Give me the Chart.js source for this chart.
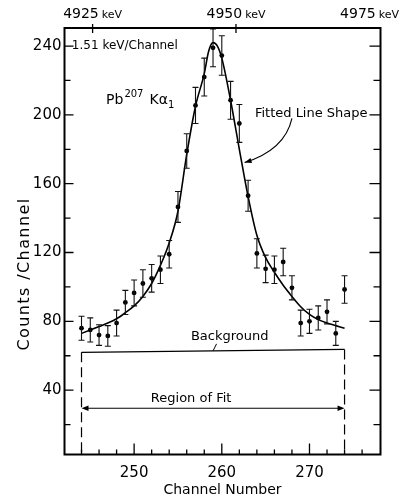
<!DOCTYPE html>
<html>
<head>
<meta charset="utf-8">
<script src="https://cdn.jsdelivr.net/npm/chart.js@4/dist/chart.umd.min.js"></script>
<style>
  html, body { margin: 0; padding: 0; background: #fff; }
  canvas { display: block; }
</style>
</head>
<body>
<canvas id="chart" width="403" height="499"></canvas>
<script>
// Measured counts per channel with their statistical errors
const channels = [244, 245, 246, 247, 248, 249, 250, 251, 252, 253, 254, 255, 256, 257, 258, 259,
                  260, 261, 262, 263, 264, 265, 266, 267, 268, 269, 270, 271, 272, 273, 274];
const counts   = [76, 75, 72, 71.5, 79, 91, 96.5, 102, 105, 110, 119, 146.5, 179, 205.5, 222, 239,
                  234.5, 208.5, 195, 153, 119.5, 110.5, 110, 114.5, 99.5, 79, 80, 82, 85.5, 73, 98.5];
const errors   = [7, 7, 6, 6, 7.5, 7, 7.5, 8, 8, 8, 8, 9, 10, 10.5, 11, 11,
                  11.5, 11, 11, 9, 8.5, 8, 8, 8, 7, 7.5, 7, 7, 7, 7, 8];

// Fitted line shape
const fitChannels = [244, 245, 246, 247, 248, 249, 250, 251, 252, 253, 254, 255, 256, 257, 258, 258.5,
                     259, 259.5, 260, 261, 262, 263, 264, 265, 266, 267, 268, 269, 270, 271, 272, 273, 274];
const fitCounts   = [73, 75, 77, 79, 81.5, 85, 89, 94.5, 102, 112.5, 125.5, 144, 177, 205, 224, 237,
                     242, 240, 233, 208.5, 180, 152.5, 130, 117, 108.5, 101, 94.5, 88.5, 84, 81, 79, 77.5, 76];

// Background level and fit window
const backgroundChannels = [244, 274];
const backgroundCounts   = [62, 63.7];
const fitWindow = [244, 274];
const fitWindowArrowCount = 29.5;

// Axis ticks
const yTickValues   = [20, 40, 60, 80, 100, 120, 140, 160, 180, 200, 220, 240];
const yTickLabels   = [40, 80, 120, 160, 200, 240];
const xMinorTicks   = [244, 246, 248, 250, 252, 254, 256, 258, 260, 262, 264, 266, 268, 270, 272, 274, 276];
const xTickLabels   = [250, 260, 270];
const energyTicks   = [4925, 4950, 4975];
const energyMarkers = [4925, 4950];

const FONT = '"DejaVu Sans", "Liberation Sans", sans-serif';

function pt(chart, cx, cy) {
  return [chart.scales.x.getPixelForValue(cx), chart.scales.y.getPixelForValue(cy)];
}

function arrowHead(ctx, tipX, tipY, dirX, dirY, len, half) {
  const m = Math.hypot(dirX, dirY);
  const ux = dirX / m, uy = dirY / m;
  const bx = tipX - ux * len, by = tipY - uy * len;
  ctx.beginPath();
  ctx.moveTo(tipX, tipY);
  ctx.lineTo(bx - uy * half, by + ux * half);
  ctx.lineTo(bx + uy * half, by - ux * half);
  ctx.closePath();
  ctx.fill();
}

// Error bars drawn from the data through the scales
const errorBars = {
  id: 'errorBars',
  afterDatasetsDraw(chart) {
    const ctx = chart.ctx;
    ctx.save();
    ctx.strokeStyle = '#111';
    ctx.lineWidth = 1.1;
    channels.forEach((c, i) => {
      const x = chart.scales.x.getPixelForValue(c);
      const yTop = chart.scales.y.getPixelForValue(counts[i] + errors[i]);
      const yBot = chart.scales.y.getPixelForValue(counts[i] - errors[i]);
      ctx.beginPath();
      ctx.moveTo(x, yTop); ctx.lineTo(x, yBot);
      ctx.moveTo(x - 3, yTop); ctx.lineTo(x + 3, yTop);
      ctx.moveTo(x - 3, yBot); ctx.lineTo(x + 3, yBot);
      ctx.stroke();
    });
    ctx.restore();
  }
};

// Frame, inward ticks, energy axis, axis title and annotations
const decorations = {
  id: 'decorations',
  afterDraw(chart) {
    const { ctx, chartArea: a, scales } = chart;
    const xs = scales.x, ys = scales.y, es = scales.x2;
    ctx.save();
    ctx.strokeStyle = '#000';
    ctx.fillStyle = '#000';

    // frame
    ctx.lineWidth = 2;
    ctx.strokeRect(a.left, a.top, a.right - a.left, a.bottom - a.top);

    // left and right ticks
    ctx.lineWidth = 1.3;
    ctx.beginPath();
    yTickValues.forEach(v => {
      const y = ys.getPixelForValue(v);
      const major = v % 40 === 0;
      ctx.moveTo(a.left, y); ctx.lineTo(a.left + (major ? 9 : 6), y);
      ctx.moveTo(a.right, y); ctx.lineTo(a.right - (major ? 11 : 7), y);
    });
    // bottom ticks
    xMinorTicks.forEach(c => {
      const x = xs.getPixelForValue(c);
      const major = c % 10 === 0;
      ctx.moveTo(x, a.bottom); ctx.lineTo(x, a.bottom - (major ? 11 : 5));
    });
    // top energy ticks
    energyMarkers.forEach(k => {
      const x = es.getPixelForValue(k);
      ctx.moveTo(x, a.top - 4); ctx.lineTo(x, a.top + 5);
    });
    ctx.stroke();

    // energy labels: number plus smaller unit
    ctx.textBaseline = 'alphabetic';
    ctx.textAlign = 'left';
    energyTicks.forEach(k => {
      const num = String(k), unit = 'keV';
      ctx.font = '14px ' + FONT;
      const wn = ctx.measureText(num).width;
      ctx.font = '11px ' + FONT;
      const wu = ctx.measureText(unit).width;
      const w = wn + 3 + wu;
      let x = es.getPixelForValue(k) - w / 2;
      if (x + w > chart.width - 4) x = chart.width - 4 - w;
      ctx.font = '14px ' + FONT;
      ctx.fillText(num, x, 18);
      ctx.font = '11px ' + FONT;
      ctx.fillText(unit, x + wn + 3, 18);
    });

    // y axis title
    ctx.save();
    ctx.translate(25, 274);
    ctx.rotate(-Math.PI / 2);
    ctx.font = '16px ' + FONT;
    ctx.textAlign = 'center';
    ctx.textBaseline = 'middle';
    if ('letterSpacing' in ctx) ctx.letterSpacing = '1.4px';
    ctx.fillText('Counts /Channel', 0, 0);
    ctx.restore();

    ctx.textBaseline = 'middle';

    // dispersion note
    ctx.textAlign = 'left';
    ctx.font = '12px ' + FONT;
    let p = pt(chart, 242.9, 240);
    ctx.fillText('1.51 keV/Channel', p[0], p[1]);

    // line label
    p = pt(chart, 246.8, 208.7);
    let x0 = p[0];
    ctx.font = '14px ' + FONT;
    ctx.fillText('Pb', x0, p[1]);
    x0 += ctx.measureText('Pb').width + 1;
    ctx.font = '10px ' + FONT;
    ctx.fillText('207', x0, p[1] - 6);
    x0 += ctx.measureText('207').width + 6;
    ctx.font = '14px ' + FONT;
    ctx.fillText('K\u03B1', x0, p[1]);
    x0 += ctx.measureText('K\u03B1').width;
    ctx.font = '10px ' + FONT;
    ctx.fillText('1', x0, p[1] + 5);

    // fitted line callout
    ctx.textAlign = 'center';
    ctx.font = '13px ' + FONT;
    p = pt(chart, 270.2, 201);
    ctx.fillText('Fitted Line Shape', p[0], p[1]);
    const s = pt(chart, 268.0, 198);
    const c = pt(chart, 267.2, 179.7);
    const e = pt(chart, 262.6, 172.3);
    ctx.lineWidth = 1.1;
    ctx.beginPath();
    ctx.moveTo(s[0], s[1]);
    ctx.quadraticCurveTo(c[0], c[1], e[0], e[1]);
    ctx.stroke();
    arrowHead(ctx, e[0], e[1], e[0] - c[0], e[1] - c[1], 7, 2.6);

    // background level
    const b0 = pt(chart, backgroundChannels[0], backgroundCounts[0]);
    const b1 = pt(chart, backgroundChannels[1], backgroundCounts[1]);
    ctx.lineWidth = 1.3;
    ctx.beginPath();
    ctx.moveTo(b0[0], b0[1]); ctx.lineTo(b1[0], b1[1]);
    ctx.stroke();
    p = pt(chart, 260.9, 70.9);
    ctx.fillText('Background', p[0], p[1]);
    const l0 = pt(chart, 259.4, 66.9), l1 = pt(chart, 259.0, 62.8);
    ctx.lineWidth = 1;
    ctx.beginPath(); ctx.moveTo(l0[0], l0[1]); ctx.lineTo(l1[0], l1[1]); ctx.stroke();

    // fit window edges
    ctx.lineWidth = 1.2;
    ctx.setLineDash([10, 5]);
    [[b0[0], b0[1]], [b1[0], b1[1]]].forEach(q => {
      ctx.beginPath();
      ctx.moveTo(q[0], q[1]);
      ctx.lineTo(q[0], a.bottom);
      ctx.stroke();
    });
    ctx.setLineDash([]);

    // fit window arrow
    const r0 = pt(chart, fitWindow[0], fitWindowArrowCount);
    const r1 = pt(chart, fitWindow[1], fitWindowArrowCount);
    ctx.lineWidth = 1.1;
    ctx.beginPath(); ctx.moveTo(r0[0] + 3, r0[1]); ctx.lineTo(r1[0] - 3, r1[1]); ctx.stroke();
    arrowHead(ctx, r0[0], r0[1], -1, 0, 7, 2.8);
    arrowHead(ctx, r1[0], r1[1], 1, 0, 7, 2.8);
    p = pt(chart, 256.5, 34.9);
    ctx.fillText('Region of Fit', p[0], p[1]);

    ctx.restore();
  }
};

new Chart(document.getElementById('chart'), {
  type: 'scatter',
  data: {
    datasets: [
      {
        label: 'Fit',
        data: fitChannels.map((c, i) => ({ x: c, y: fitCounts[i] })),
        showLine: true,
        borderColor: '#000',
        borderWidth: 1.6,
        pointRadius: 0,
        cubicInterpolationMode: 'monotone',
        fill: false
      },
      {
        label: 'Counts',
        data: channels.map((c, i) => ({ x: c, y: counts[i] })),
        showLine: false,
        pointRadius: 2.4,
        pointBackgroundColor: '#000',
        pointBorderColor: '#000',
        pointBorderWidth: 0
      }
    ]
  },
  options: {
    responsive: false,
    animation: false,
    devicePixelRatio: 1,
    layout: { padding: { left: 0, right: 22.5, top: 0, bottom: 0 } },
    plugins: { legend: { display: false }, tooltip: { enabled: false } },
    scales: {
      x: {
        type: 'linear',
        position: 'bottom',
        min: 242.06,
        max: 278.1,
        grid: { display: false, drawTicks: false },
        border: { display: false },
        afterBuildTicks: s => { s.ticks = xTickLabels.map(v => ({ value: v })); },
        afterFit: s => { s.height = 44.5; },
        ticks: { color: '#000', font: { family: FONT, size: 15 }, padding: 10, maxRotation: 0 },
        title: { display: true, text: 'Channel Number', color: '#000',
                 font: { family: FONT, size: 14 }, padding: { top: 0, bottom: 0 } }
      },
      x2: {
        type: 'linear',
        position: 'top',
        min: 4920.1,
        max: 4975.2,
        grid: { display: false, drawTicks: false },
        border: { display: false },
        ticks: { display: false },
        afterFit: s => { s.height = 28; }
      },
      y: {
        type: 'linear',
        position: 'left',
        min: 2.6,
        max: 250.5,
        grid: { display: false, drawTicks: false },
        border: { display: false },
        afterBuildTicks: s => { s.ticks = yTickLabels.map(v => ({ value: v })); },
        afterFit: s => { s.width = 64.5; },
        ticks: { color: '#000', font: { family: FONT, size: 15 }, padding: 3 },
        title: { display: false }
      }
    }
  },
  plugins: [errorBars, decorations]
});
</script>
</body>
</html>
